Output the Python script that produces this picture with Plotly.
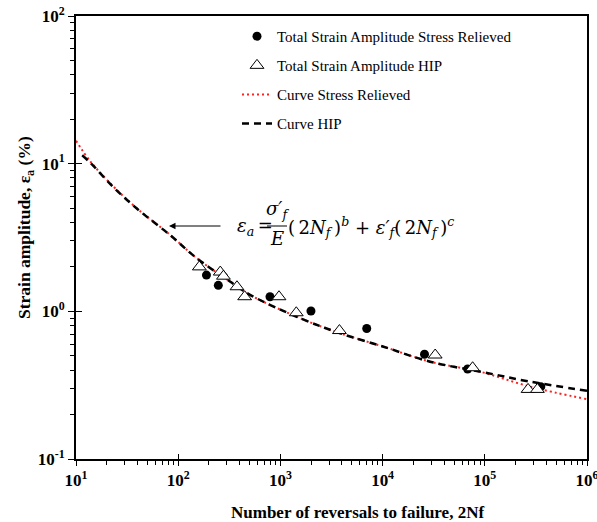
import plotly.graph_objects as go

# ---------------- data ----------------
sr_reversals = [189, 247, 791, 1991, 6995, 25700, 67900, 353000]
sr_strain = [1.76, 1.50, 1.256, 1.005, 0.765, 0.512, 0.407, 0.309]

hip_reversals = [161, 258, 277, 376, 447, 969, 1430, 3780, 32700, 76000, 265000, 327000]
hip_strain = [2.00, 1.845, 1.73, 1.467, 1.256, 1.256, 0.978, 0.741, 0.506, 0.415, 0.296, 0.296]

curve_sr_x = [10, 13.9, 23.4, 39.6, 83.9, 153, 324, 509, 1567, 3855, 10220, 29170, 89900, 277000, 1000000]
curve_sr_y = [14.3, 10.3, 6.97, 4.97, 3.28, 2.28, 1.586, 1.289, 0.897, 0.710, 0.576, 0.456, 0.390, 0.309, 0.254]

curve_hip_x = [11.5, 13.9, 23.4, 39.6, 83.9, 153, 324, 509, 1567, 3855, 10220, 29170, 96800, 277000, 1000000]
curve_hip_y = [11.4, 10.1, 6.90, 4.95, 3.27, 2.28, 1.586, 1.289, 0.897, 0.710, 0.576, 0.456, 0.387, 0.334, 0.290]

x_tick_vals = [1e1, 1e2, 1e3, 1e4, 1e5, 1e6]
x_tick_text = ["10<sup>1</sup>", "10<sup>2</sup>", "10<sup>3</sup>", "10<sup>4</sup>", "10<sup>5</sup>", "10<sup>6</sup>"]
y_tick_vals = [0.1, 1, 10, 100]
y_tick_text = ["10<sup>-1</sup>", "10<sup>0</sup>", "10<sup>1</sup>", "10<sup>2</sup>"]

FONT = "Liberation Serif"
W, H = 597, 522
L, R, T, B = 76, 587, 16, 459


def px(x):
    return (x - L) / (R - L)


def py(y):
    return (B - y) / (B - T)


fig = go.Figure()

fig.add_trace(go.Scatter(
    x=curve_sr_x, y=curve_sr_y, mode="lines", name="Curve Stress Relieved",
    line=dict(color="#ff2020", width=2, dash="2px,3px", shape="spline"),
    legendgroup="c", legendrank=3))
fig.add_trace(go.Scatter(
    x=curve_hip_x, y=curve_hip_y, mode="lines", name="Curve HIP",
    line=dict(color="black", width=2.5, dash="7px,5px", shape="spline"),
    legendgroup="d", legendrank=4))
fig.add_trace(go.Scatter(
    x=sr_reversals, y=sr_strain, mode="markers", name="Total Strain Amplitude Stress Relieved",
    marker=dict(symbol="circle", size=9, color="black"),
    legendgroup="a", legendrank=1))
fig.add_trace(go.Scatter(
    x=hip_reversals, y=hip_strain, mode="markers", name="Total Strain Amplitude HIP",
    marker=dict(symbol="triangle-up", size=12, color="white", line=dict(color="black", width=1)),
    legendgroup="b", legendrank=2))
# empty trace to activate the overlay axes (inner halves of major ticks)
fig.add_trace(go.Scatter(x=[], y=[], xaxis="x2", yaxis="y2", showlegend=False, hoverinfo="skip"))

axis_common = dict(type="log", showgrid=False, zeroline=False, automargin=False)

fig.update_layout(
    width=W, height=H, autosize=False,
    margin=dict(l=L, r=W - R, t=T, b=H - B, pad=0, autoexpand=False),
    paper_bgcolor="white", plot_bgcolor="white",
    font=dict(family=FONT, color="black"),
    xaxis=dict(**axis_common, range=[1, 6], showline=True, linecolor="black", linewidth=2, mirror=True,
               ticks="outside", ticklen=5, tickwidth=1, tickcolor="black",
               tickvals=x_tick_vals, ticktext=x_tick_text, ticklabeloverflow="allow",
               tickfont=dict(family=FONT, size=17, color="black", weight="bold"),
               minor=dict(ticks="outside", ticklen=4, tickwidth=1, tickcolor="black", dtick="D1", showgrid=False)),
    yaxis=dict(**axis_common, range=[-1, 2], showline=True, linecolor="black", linewidth=2, mirror=True,
               ticks="outside", ticklen=6, tickwidth=1, tickcolor="black",
               tickvals=y_tick_vals, ticktext=y_tick_text, ticklabeloverflow="allow",
               tickfont=dict(family=FONT, size=17, color="black", weight="bold"),
               minor=dict(ticks="outside", ticklen=4, tickwidth=1, tickcolor="black", dtick="D1", showgrid=False)),
    xaxis2=dict(**axis_common, range=[1, 6], overlaying="x", anchor="y2", side="bottom",
                showline=False, ticks="inside", ticklen=5, tickwidth=1, tickcolor="black",
                tickvals=x_tick_vals, showticklabels=False),
    yaxis2=dict(**axis_common, range=[-1, 2], overlaying="y", anchor="x2", side="left",
                showline=False, ticks="inside", ticklen=6, tickwidth=1, tickcolor="black",
                tickvals=y_tick_vals, showticklabels=False),
    legend=dict(x=px(237), y=py(20), xanchor="left", yanchor="top",
                font=dict(family=FONT, size=15, color="black"),
                bgcolor="rgba(0,0,0,0)", traceorder="grouped", tracegroupgap=6.6,
                itemwidth=30),
    showlegend=True,
)

TS = "\u2009"  # thin space
ann = []
# axis titles
ann.append(dict(text="<b>Strain amplitude, ε<sub>a</sub> (%)</b>", xref="paper", yref="paper",
                x=px(25), y=py(228), textangle=-90, showarrow=False,
                font=dict(family=FONT, size=17.5, color="black"), xanchor="center", yanchor="middle"))
ann.append(dict(text="<b>Number of reversals to failure, 2Nf</b>", xref="paper", yref="paper",
                x=px(357), y=py(512), showarrow=False,
                font=dict(family=FONT, size=17, color="black"), xanchor="center", yanchor="middle"))
# arrow
ann.append(dict(text="", xref="paper", yref="paper", x=px(169), y=py(226), ax=53, ay=0,
                showarrow=True, arrowhead=2, arrowsize=1.3, arrowwidth=1, arrowcolor="black"))
# equation
EQF = dict(family="DejaVu Serif", size=18, color="black")
ann.append(dict(text="<i>ε<sub>a</sub></i>" + TS + "=", xref="paper", yref="paper", x=px(235), y=py(227),
                xanchor="left", yanchor="middle", showarrow=False, font=EQF))
ann.append(dict(text="<i>σ′<sub>f</sub></i>", xref="paper", yref="paper", x=px(277), y=py(210),
                xanchor="center", yanchor="middle", showarrow=False, font=EQF))
ann.append(dict(text="<i>E</i>", xref="paper", yref="paper", x=px(277), y=py(238),
                xanchor="center", yanchor="middle", showarrow=False, font=EQF))
ann.append(dict(text="(" + TS + "2<i>N<sub>f</sub></i>" + TS + ")<sup><i>b</i></sup> + "
                + "<i>ε′<sub>f</sub></i>(" + TS + "2<i>N<sub>f</sub></i>" + TS + ")<sup><i>c</i></sup>",
                xref="paper", yref="paper", x=px(286), y=py(227),
                xanchor="left", yanchor="middle", showarrow=False, font=EQF))
fig.update_layout(annotations=ann)
fig.add_shape(type="line", xref="paper", yref="paper", x0=px(267), x1=px(287), y0=py(226), y1=py(226),
              line=dict(color="black", width=1))

fig.write_html(
    "out.html",
    config={"displayModeBar": False, "responsive": False},
    post_script=("document.body.style.margin='0px';document.body.style.overflow='hidden';"
                 "var gd=document.getElementById('{plot_id}');"
                 "Plotly.relayout(gd,{width:597,height:522});"),
)
